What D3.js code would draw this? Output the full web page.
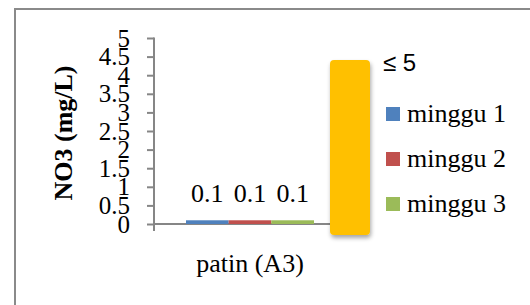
<!DOCTYPE html>
<html>
<head>
<meta charset="utf-8">
<script src="https://cdn.jsdelivr.net/npm/d3@7"></script>
<style>
  body { margin: 0; background: #fff; }
</style>
</head>
<body>
<div id="chart-area"></div>
<script>
// data
var categories = ["patin (A3)"];
var seriesNames = ["minggu 1", "minggu 2", "minggu 3"];
var seriesValues = [[0.1], [0.1], [0.1]];
var yTicks = [0, 0.5, 1, 1.5, 2, 2.5, 3, 3.5, 4, 4.5, 5];
var thresholdLabel = "≤ 5";
var colors = ["#4F81BD", "#C0504D", "#9BBB59"];

var serif = "'Liberation Serif', 'Times New Roman', serif";
var W = 530, H = 305;
var margin = { left: 154, top: 38 };
var plotW = 192, plotH = 186;

var svg = d3.select("#chart-area")
    .append("svg")
    .attr("width", W)
    .attr("height", H)
    .attr("font-family", serif);

// outer frame (right and bottom run off the picture)
svg.append("rect")
    .attr("x", 15).attr("y", 9)
    .attr("width", 600).attr("height", 400)
    .attr("fill", "none")
    .attr("stroke", "#8a8a8a")
    .attr("stroke-width", 2);

var defs = svg.append("defs");
var f = defs.append("filter").attr("id", "shadow")
    .attr("x", "-30%").attr("y", "-10%").attr("width", "160%").attr("height", "130%");
f.append("feDropShadow").attr("dx", 1).attr("dy", 3).attr("stdDeviation", 2)
    .attr("flood-color", "#000").attr("flood-opacity", 0.35);

var g = svg.append("g")
    .attr("transform", "translate(" + margin.left + "," + margin.top + ")");

var x = d3.scaleBand()
    .domain(categories)
    .range([0, plotW])
    .paddingOuter(0.25);

var xs = d3.scaleBand()
    .domain(seriesNames)
    .range([0, x.bandwidth()]);

var y = d3.scaleLinear()
    .domain([0, 5])
    .range([plotH, 0]);

// y axis
var yG = g.append("g")
    .call(d3.axisLeft(y).tickValues(yTicks).tickSize(7).tickPadding(17).tickFormat(d3.format("")));
yG.attr("font-family", serif);
yG.select(".domain").attr("stroke", "#868686").attr("stroke-width", 2).attr("d", "M0,-0.5V" + (plotH + 7));
yG.selectAll(".tick line").attr("stroke", "#868686").attr("stroke-width", 2);
yG.selectAll(".tick text")
    .attr("font-size", "25px")
    .attr("fill", "#000")
    .attr("font-family", serif);

// x axis
var xG = g.append("g")
    .attr("transform", "translate(0," + plotH + ")")
    .call(d3.axisBottom(x).tickSize(0).tickPadding(30));
xG.attr("font-family", serif);
xG.select(".domain").attr("stroke", "#868686").attr("stroke-width", 2).attr("d", "M0,0H" + plotW);
xG.selectAll(".tick text")
    .attr("font-size", "26px")
    .attr("fill", "#000")
    .attr("font-family", serif);

// bars
var groups = g.selectAll(".grp")
    .data(categories)
    .enter().append("g")
    .attr("transform", function (d) { return "translate(" + x(d) + ",0)"; });

seriesNames.forEach(function (s, i) {
    groups.append("rect")
        .attr("x", xs(s))
        .attr("y", function (d, j) { return y(seriesValues[i][j]); })
        .attr("width", xs.bandwidth())
        .attr("height", function (d, j) { return plotH - y(seriesValues[i][j]); })
        .attr("fill", colors[i]);
    groups.append("text")
        .attr("x", xs(s) + xs.bandwidth() / 2)
        .attr("y", function (d, j) { return y(seriesValues[i][j]) - 18; })
        .attr("text-anchor", "middle")
        .attr("font-size", "26px")
        .attr("font-family", serif)
        .text(function (d, j) { return seriesValues[i][j]; });
});

// threshold marker
svg.append("rect")
    .attr("x", 330).attr("y", 60)
    .attr("width", 40).attr("height", 175)
    .attr("rx", 4)
    .attr("fill", "#FFC000")
    .attr("filter", "url(#shadow)");
svg.append("text")
    .attr("x", 383).attr("y", 71)
    .attr("font-size", "24px")
    .attr("font-family", "'Liberation Sans', Arial, sans-serif")
    .text(thresholdLabel);

// legend
var legend = svg.append("g").attr("transform", "translate(386,107)");
seriesNames.forEach(function (s, i) {
    var it = legend.append("g").attr("transform", "translate(0," + i * 45 + ")");
    it.append("rect").attr("width", 14).attr("height", 14).attr("fill", colors[i]);
    it.append("text").attr("x", 21).attr("y", 15).attr("font-size", "26px")
        .attr("font-family", serif).text(s);
});

// y label
svg.append("text")
    .attr("transform", "translate(72,133) rotate(-90)")
    .attr("text-anchor", "middle")
    .attr("font-size", "26px")
    .attr("font-weight", "bold")
    .attr("font-family", serif)
    .text("NO3 (mg/L)");
</script>
</body>
</html>
